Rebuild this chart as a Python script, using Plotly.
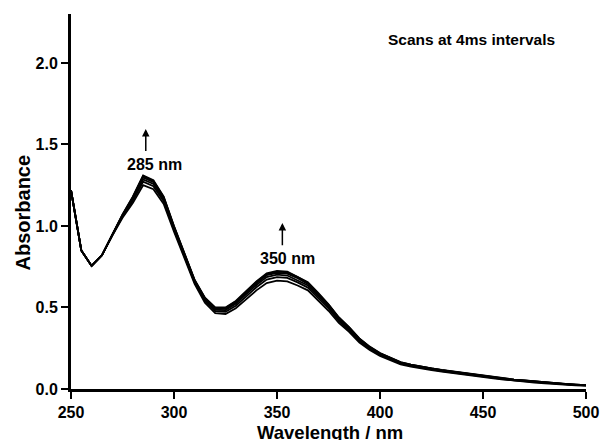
import plotly.graph_objects as go

wavelength = list(range(250, 505, 5))

scan1 = [1.22, 0.85, 0.755, 0.82, 0.94, 1.05, 1.14, 1.25, 1.225, 1.135, 0.965, 0.80, 0.645, 0.53, 0.465,
         0.46, 0.495, 0.55, 0.605, 0.65, 0.665, 0.66, 0.635, 0.605, 0.545, 0.48, 0.405, 0.35, 0.285, 0.24,
         0.203, 0.175, 0.151, 0.137, 0.125, 0.116, 0.107, 0.098, 0.09, 0.081, 0.073, 0.065, 0.058, 0.051,
         0.046, 0.04, 0.035, 0.03, 0.027, 0.023, 0.021]
scan2 = [1.22, 0.85, 0.755, 0.82, 0.942, 1.057, 1.154, 1.271, 1.244, 1.151, 0.977, 0.81, 0.654, 0.54, 0.477,
         0.474, 0.511, 0.567, 0.624, 0.671, 0.686, 0.681, 0.654, 0.622, 0.561, 0.494, 0.417, 0.36, 0.294, 0.247,
         0.209, 0.18, 0.156, 0.142, 0.129, 0.12, 0.11, 0.101, 0.093, 0.084, 0.076, 0.068, 0.06, 0.053,
         0.048, 0.042, 0.037, 0.032, 0.028, 0.024, 0.022]
scan3 = [1.22, 0.85, 0.755, 0.82, 0.943, 1.062, 1.164, 1.286, 1.258, 1.162, 0.986, 0.818, 0.66, 0.548, 0.486,
         0.484, 0.522, 0.58, 0.638, 0.686, 0.701, 0.696, 0.668, 0.635, 0.572, 0.504, 0.426, 0.368, 0.3, 0.252,
         0.213, 0.184, 0.159, 0.145, 0.132, 0.123, 0.113, 0.104, 0.095, 0.086, 0.078, 0.07, 0.062, 0.055,
         0.05, 0.044, 0.038, 0.033, 0.029, 0.025, 0.023]
scan4 = [1.22, 0.85, 0.755, 0.82, 0.944, 1.066, 1.172, 1.298, 1.269, 1.171, 0.993, 0.824, 0.665, 0.554, 0.493,
         0.492, 0.531, 0.59, 0.649, 0.698, 0.713, 0.708, 0.679, 0.645, 0.581, 0.512, 0.433, 0.374, 0.305, 0.256,
         0.217, 0.187, 0.162, 0.147, 0.135, 0.125, 0.115, 0.106, 0.097, 0.088, 0.079, 0.071, 0.064, 0.057,
         0.051, 0.045, 0.039, 0.034, 0.03, 0.026, 0.023]
scan5 = [1.22, 0.85, 0.755, 0.82, 0.945, 1.068, 1.177, 1.305, 1.276, 1.176, 0.997, 0.828, 0.668, 0.558, 0.497,
         0.497, 0.536, 0.596, 0.656, 0.705, 0.72, 0.715, 0.686, 0.651, 0.586, 0.517, 0.437, 0.378, 0.308, 0.258,
         0.219, 0.189, 0.164, 0.149, 0.136, 0.126, 0.116, 0.107, 0.098, 0.089, 0.08, 0.072, 0.064, 0.057,
         0.052, 0.046, 0.04, 0.035, 0.031, 0.027, 0.024]
scan6 = [1.22, 0.85, 0.755, 0.82, 0.945, 1.07, 1.18, 1.31, 1.28, 1.18, 1.00, 0.83, 0.67, 0.56, 0.50,
         0.50, 0.54, 0.60, 0.66, 0.71, 0.725, 0.72, 0.69, 0.655, 0.59, 0.52, 0.44, 0.38, 0.31, 0.26,
         0.22, 0.19, 0.165, 0.15, 0.137, 0.127, 0.117, 0.108, 0.099, 0.09, 0.081, 0.073, 0.065, 0.058,
         0.052, 0.046, 0.04, 0.035, 0.031, 0.027, 0.024]
scans = [scan1, scan2, scan3, scan4, scan5, scan6]

x_range = [250, 500]
y_range = [0, 2.3]
x_tick_start, x_tick_step, x_minor_step = 250, 50, 25
y_tick_start, y_tick_step, y_minor_step = 0.0, 0.5, 0.25

FONT = "Liberation Sans, Arial, sans-serif"

fig = go.Figure()
for s in scans:
    fig.add_trace(go.Scatter(x=wavelength, y=s, mode="lines",
                             line=dict(color="black", width=1.8), showlegend=False,
                             hoverinfo="skip"))

axis_common = dict(showline=True, linecolor="black", linewidth=3, ticks="outside",
                   tickcolor="black", tickwidth=2, ticklen=7, showgrid=False, zeroline=False,
                   automargin=False,
                   tickfont=dict(family=FONT, size=16, color="black", weight="bold"))

fig.update_layout(
    xaxis=dict(range=x_range, tickmode="linear", tick0=x_tick_start, dtick=x_tick_step,
               **axis_common),
    yaxis=dict(range=y_range, tickmode="linear", tick0=y_tick_start, dtick=y_tick_step,
               tickformat=".1f", **axis_common),
    # overlay axes that carry only the short intermediate ticks
    xaxis2=dict(range=x_range, overlaying="x", anchor="y", side="bottom", tickmode="linear",
                tick0=x_tick_start, dtick=x_minor_step, ticks="outside", ticklen=5, tickwidth=2,
                tickcolor="black", showticklabels=False, showline=False, showgrid=False,
                zeroline=False, automargin=False),
    yaxis2=dict(range=y_range, overlaying="y", anchor="x", side="left", tickmode="linear",
                tick0=y_tick_start, dtick=y_minor_step, ticks="outside", ticklen=5, tickwidth=2,
                tickcolor="black", showticklabels=False, showline=False, showgrid=False,
                zeroline=False, automargin=False),
)

title_font = dict(family=FONT, size=18.5, color="black", weight="bold")
fig.add_annotation(text="Wavelength / nm", xref="paper", yref="paper", x=0.502, y=-0.082,
                   xanchor="center", yanchor="top", showarrow=False, font=title_font)
fig.add_annotation(text="Absorbance", xref="paper", yref="paper", x=-0.0913, y=0.4707,
                   xanchor="center", yanchor="middle", textangle=-90, showarrow=False,
                   font=dict(family=FONT, size=20, color="black", weight="bold"))

ann_font = dict(family=FONT, size=16, color="black", weight="bold")
fig.add_annotation(x=286.3, y=1.595, ax=286.3, ay=1.45, axref="x", ayref="y", xref="x", yref="y",
                   text="", showarrow=True, arrowhead=2, arrowsize=1, arrowwidth=1.5, arrowcolor="black")
fig.add_annotation(x=352.6, y=1.018, ax=352.6, ay=0.873, axref="x", ayref="y", xref="x", yref="y",
                   text="", showarrow=True, arrowhead=2, arrowsize=1, arrowwidth=1.5, arrowcolor="black")
fig.add_annotation(x=290.5, y=1.374, text="285 nm", showarrow=False, font=ann_font)
fig.add_annotation(x=355.1, y=0.798, text="350 nm", showarrow=False, font=ann_font)
fig.add_annotation(x=444.4, y=2.141, text="Scans at 4ms intervals", showarrow=False,
                   font=dict(family=FONT, size=15.5, color="black", weight="bold"))

fig.update_layout(width=601, height=440, margin=dict(l=71, r=15, t=14, b=51),
                  paper_bgcolor="white", plot_bgcolor="white", showlegend=False)

fig.write_html("out.html", config={"displayModeBar": False})
